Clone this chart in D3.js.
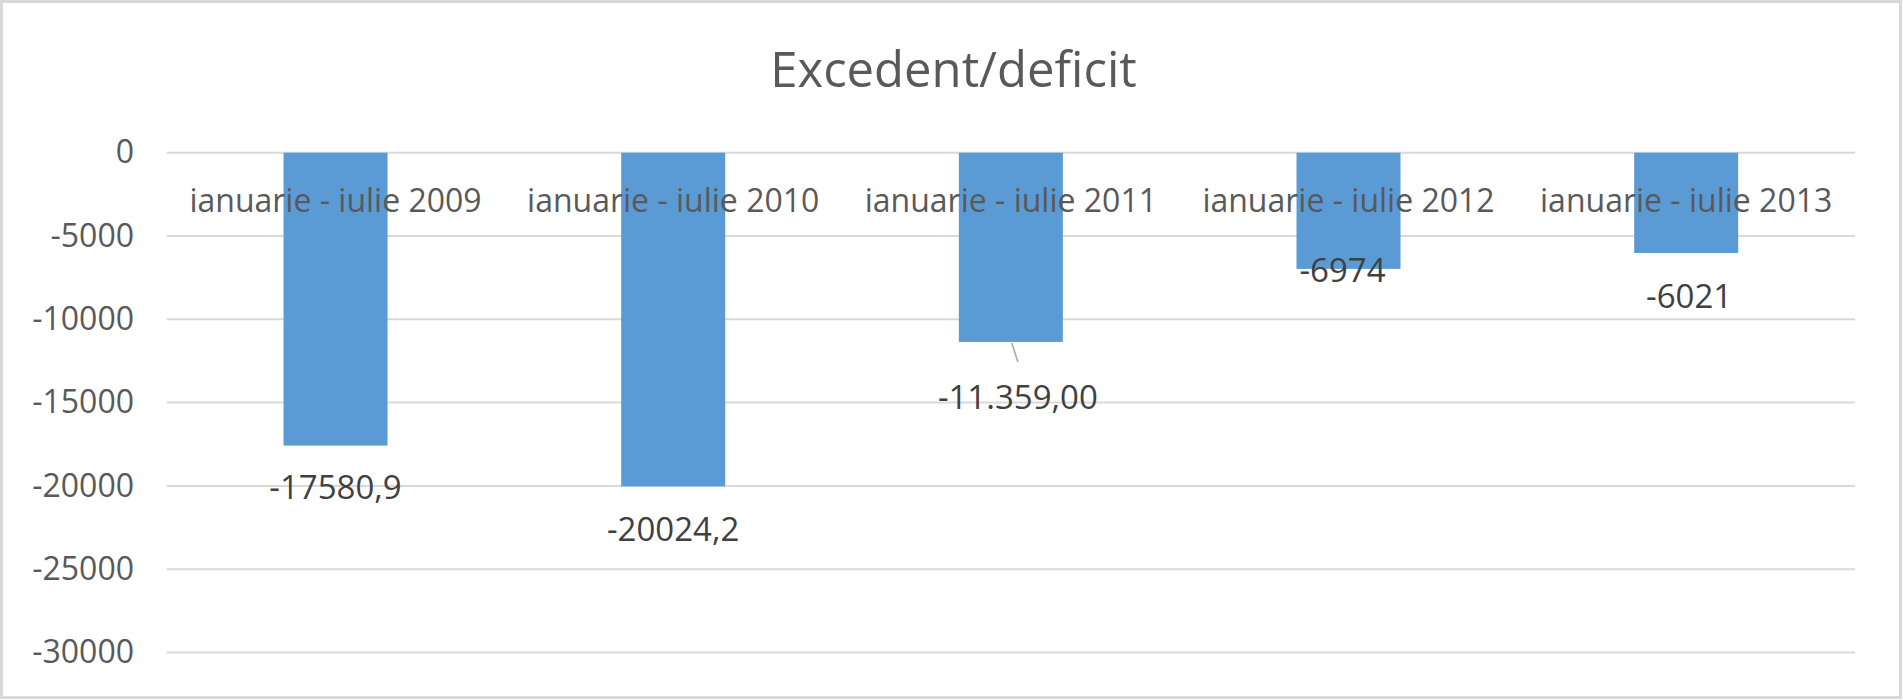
<!DOCTYPE html>
<html>
<head>
<meta charset="utf-8">
<script src="https://cdn.jsdelivr.net/npm/d3@7"></script>
<style>
  html, body { margin: 0; padding: 0; background: #fff; }
  svg { display: block; }
  text { font-family: "Open Sans", "Noto Sans", sans-serif; }
</style>
</head>
<body>
<svg id="chart" width="1903" height="700"></svg>
<script>
// ---- data ----
const title = "Excedent/deficit";
const categories = ["ianuarie - iulie 2009", "ianuarie - iulie 2010", "ianuarie - iulie 2011", "ianuarie - iulie 2012", "ianuarie - iulie 2013"];
const values = [-17580.9, -20024.2, -11359, -6974, -6021];
const valueLabels = ["-17580,9", "-20024,2", "-11.359,00", "-6974", "-6021"];
const yTicks = [0, -5000, -10000, -15000, -20000, -25000, -30000];

// ---- layout (not data) ----
const W = 1903, H = 700;
const plot = { left: 166.7, right: 1855, top: 152.7, bottom: 652.5 };
// label placement relative to bar end (px): [dx, dy]
const labelShift = [[0, 42], [0, 43], [7, 55], [-6, 1], [3, 43]];

const svg = d3.select("#chart");

// frame
svg.append("rect")
  .attr("x", 1.5).attr("y", 1.5)
  .attr("width", W - 4).attr("height", H - 4)
  .attr("fill", "#fff")
  .attr("stroke", "#D9D9D9").attr("stroke-width", 3);

const x = d3.scaleBand()
  .domain(categories)
  .range([plot.left, plot.right])
  .paddingInner(0.692)
  .paddingOuter(0.346);

const y = d3.scaleLinear()
  .domain([0, -30000])
  .range([plot.top, plot.bottom]);

// gridlines
svg.append("g")
  .selectAll("line")
  .data(yTicks)
  .join("line")
  .attr("x1", plot.left).attr("x2", plot.right)
  .attr("y1", d => y(d)).attr("y2", d => y(d))
  .attr("stroke", "#D9D9D9").attr("stroke-width", 2);

// y axis labels
const yAxis = d3.axisLeft(y).tickValues(yTicks).tickSize(0).tickPadding(0).tickFormat(d => String(d));
const gy = svg.append("g")
  .attr("transform", `translate(${134},0)`)
  .call(yAxis);
gy.select(".domain").remove();
gy.selectAll("text")
  .attr("font-family", "'Open Sans', sans-serif")
  .attr("font-size", 32)
  .attr("fill", "#595959");

// bars
svg.append("g")
  .selectAll("rect")
  .data(values)
  .join("rect")
  .attr("x", (d, i) => x(categories[i]))
  .attr("width", x.bandwidth())
  .attr("y", d => y(Math.max(0, d)))
  .attr("height", d => Math.abs(y(d) - y(0)))
  .attr("fill", "#5B9BD5");

// category labels (drawn over bars, near zero line)
const xAxis = d3.axisTop(x).tickSize(0).tickPadding(0);
const gx = svg.append("g")
  .attr("transform", `translate(0,${y(0) + 59})`)
  .call(xAxis);
gx.select(".domain").remove();
gx.selectAll("text")
  .attr("font-family", "'Open Sans', sans-serif")
  .attr("font-size", 32)
  .attr("fill", "#595959");

// leader line for the 2011 label
const i3 = 2;
const cx3 = x(categories[i3]) + x.bandwidth() / 2;
svg.append("line")
  .attr("x1", cx3 + 1).attr("y1", y(values[i3]) + 1)
  .attr("x2", cx3 + 7).attr("y2", y(values[i3]) + 20)
  .attr("stroke", "#A6A6A6").attr("stroke-width", 1.5);

// data labels
svg.append("g")
  .selectAll("text")
  .data(values)
  .join("text")
  .attr("x", (d, i) => x(categories[i]) + x.bandwidth() / 2 + labelShift[i][0])
  .attr("y", (d, i) => y(d) + labelShift[i][1])
  .attr("dy", "0.36em")
  .attr("text-anchor", "middle")
  .attr("font-size", 33)
  .attr("fill", "#404040")
  .text((d, i) => valueLabels[i]);

// title
svg.append("text")
  .attr("x", W / 2 + 2)
  .attr("y", 87)
  .attr("text-anchor", "middle")
  .attr("font-size", 49)
  .attr("fill", "#595959")
  .text(title);
</script>
</body>
</html>
